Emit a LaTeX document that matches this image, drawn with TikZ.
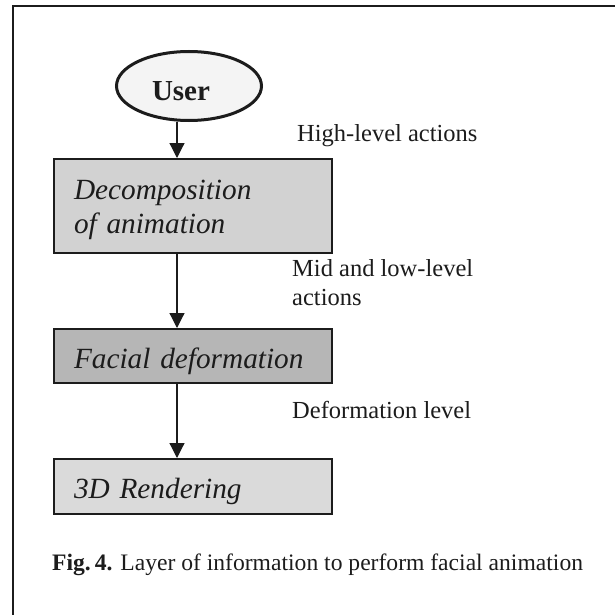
\documentclass[tikz,border=0pt]{standalone}
\usepackage{xcolor}
\usepackage{fontspec}
\setmainfont{Liberation Serif}
\usepackage{tikz}
\usetikzlibrary{shapes.geometric, arrows.meta, positioning}

\definecolor{ink}{RGB}{28,28,28}
\definecolor{usergray}{RGB}{244,244,244}
\definecolor{decompgray}{RGB}{210,210,210}
\definecolor{facialgray}{RGB}{182,182,182}
\definecolor{rendergray}{RGB}{218,218,218}

\begin{document}
\begin{tikzpicture}[
x=1pt, y=-1pt,
node distance=74pt,
every node/.style={text=ink},
actor/.style={
    ellipse,
    draw=ink,
    line width=3pt,
    fill=usergray,
    minimum width=145pt,
    minimum height=69pt,
    inner sep=0pt,
    text height=30pt,
    text depth=0pt,
    font=\fontsize{29pt}{32pt}\selectfont\bfseries
},
stage/.style={
    rectangle,
    draw=ink,
    line width=2pt,
    text width=238pt,
    inner xsep=20pt,
    inner ysep=0pt,
    align=left,
    text height=24pt,
    text depth=0pt,
    font=\fontsize{29.3pt}{34pt}\selectfont\itshape
},
levellabel/.style={
    inner sep=0pt,
    anchor=base west,
    align=left,
    font=\fontsize{24.5pt}{28.5pt}\selectfont
},
arrow/.style={
    -{Triangle[length=15pt,width=15pt]},
    line width=1.2pt,
    draw=ink
}
]

\fill [white] (0,0) rectangle (615,615);
\useasboundingbox (0,0) rectangle (615,615);
\draw [ink, line width=2pt] (615,6) -- (13,6) -- (13,615);

\node (user) [actor] at (189,86) {\hspace*{-16pt}User};

\node (decomp) [stage, fill=decompgray, minimum height=94pt, text depth=38pt,
    below=36pt of user, xshift=4pt] {Decomposition\\of animation};

\node (facial) [stage, fill=facialgray, minimum height=54pt, below=of decomp] {Facial deformation};

\node (render) [stage, fill=rendergray, minimum height=55pt, below=of facial] {3D Rendering};

\node (high) [levellabel] at (297,141) {High-level actions};
\node (mid) [levellabel] at (292,305) {Mid and low-level\\actions};
\node (deflevel) [levellabel] at (292,418) {Deformation level};

\node (caption) [levellabel, font=\fontsize{23.6pt}{28pt}\selectfont] at (52,570)
    {\textbf{Fig.\,4.} Layer of information to perform facial animation};

\coordinate (spine) at (177,0);
\draw [arrow] (spine |- user.south) -- (spine |- decomp.north);
\draw [arrow] (spine |- decomp.south) -- (spine |- facial.north);
\draw [arrow] (spine |- facial.south) -- (spine |- render.north);

\end{tikzpicture}
\end{document}
